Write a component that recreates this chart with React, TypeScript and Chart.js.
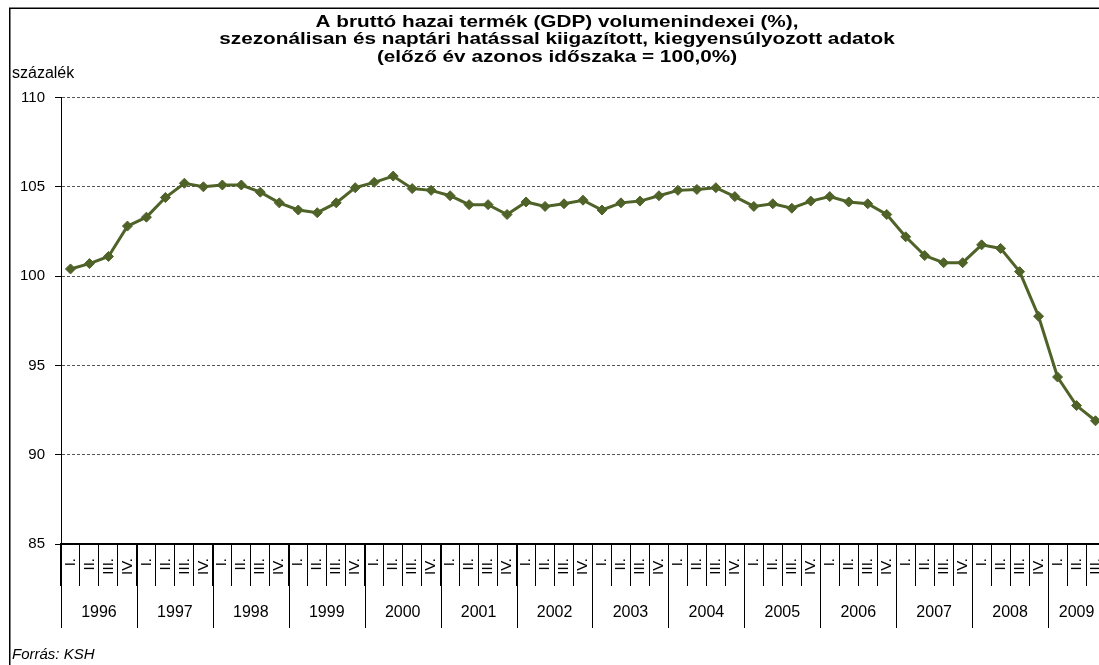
import React, { useEffect, useRef } from 'react';
import { Chart, registerables } from 'chart.js';

Chart.register(...registerables);

const FONT = "'Liberation Sans', Arial, sans-serif";

const titleLines = [
  'A bruttó hazai termék (GDP) volumenindexei (%),',
  'szezonálisan és naptári hatással kiigazított, kiegyensúlyozott adatok',
  '(előző év azonos időszaka = 100,0%)',
];
const yUnitLabel = 'százalék';
const sourceLabel = 'Forrás: KSH';

const years = ['1996', '1997', '1998', '1999', '2000', '2001', '2002', '2003', '2004', '2005', '2006', '2007', '2008', '2009'];
const quarterNames = ['I.', 'II.', 'III.', 'IV.'];

const values = [
  100.4, 100.7, 101.1, 102.8, // 1996
  103.3, 104.4, 105.2, 105.0, // 1997
  105.1, 105.1, 104.7, 104.1, // 1998
  103.7, 103.55, 104.1, 104.95, // 1999
  105.25, 105.6, 104.9, 104.8, // 2000
  104.5, 104.0, 104.0, 103.45, // 2001
  104.15, 103.9, 104.05, 104.25, // 2002
  103.7, 104.1, 104.2, 104.5, // 2003
  104.8, 104.85, 104.95, 104.45, // 2004
  103.9, 104.05, 103.8, 104.2, // 2005
  104.45, 104.15, 104.05, 103.45, // 2006
  102.2, 101.15, 100.75, 100.75, // 2007
  101.75, 101.55, 100.25, 97.75, // 2008
  94.35, 92.75, 91.9, // 2009
];

const yMin = 85;
const yMax = 110;
const yStep = 5;

const categories = values.map((_, i) => quarterNames[i % 4]);

const decorPlugin = {
  id: 'decor',
  beforeDraw(chart: any) {
    const ctx = chart.ctx;
    ctx.save();
    ctx.fillStyle = '#ffffff';
    ctx.fillRect(0, 0, chart.width, chart.height);
    ctx.restore();
  },
  afterDraw(chart: any) {
    const { ctx, chartArea } = chart;
    const xs = chart.scales.x;
    ctx.save();
    // outer frame
    ctx.strokeStyle = '#000';
    ctx.lineWidth = 1.5;
    ctx.strokeRect(9.75, 8.25, chart.width + 60, chart.height + 60);

    // title (wide bold face, as in the original)
    ctx.fillStyle = '#000';
    ctx.textAlign = 'center';
    ctx.textBaseline = 'middle';
    ctx.font = `bold 17px ${FONT}`;
    const cx = 557;
    titleLines.forEach((line, i) => {
      ctx.save();
      ctx.translate(cx, 22 + i * 17.6);
      ctx.scale(1.22, 1);
      ctx.fillText(line, 0, 0);
      ctx.restore();
    });

    // year separators and labels
    const step = xs.getPixelForValue(1) - xs.getPixelForValue(0);
    ctx.lineWidth = 1;
    ctx.strokeStyle = '#000';
    ctx.font = `16px ${FONT}`;
    years.forEach((yr, k) => {
      const first = k * 4;
      if (first >= values.length) return;
      const last = Math.min(first + 3, values.length - 1);
      const left = xs.getPixelForValue(first) - step / 2;
      const right = xs.getPixelForValue(last) + step / 2;
      const lx = Math.round(left) + 0.5;
      ctx.beginPath();
      ctx.moveTo(lx, chartArea.bottom);
      ctx.lineTo(lx, chartArea.bottom + 84);
      ctx.stroke();
      ctx.fillText(yr, (left + right) / 2, chartArea.bottom + 69);
    });

    // unit label
    ctx.textAlign = 'left';
    ctx.font = `16px ${FONT}`;
    ctx.fillText(yUnitLabel, 12, 74);
    // source
    ctx.font = `italic 15px ${FONT}`;
    ctx.fillText(sourceLabel, 12, 655);
    ctx.restore();
  },
};

export default function App() {
  const ref = useRef<HTMLCanvasElement>(null);

  useEffect(() => {
    const prev = document.body.style.overflow;
    document.body.style.overflow = 'hidden';
    const chart = new Chart(ref.current as HTMLCanvasElement, {
      type: 'line',
      data: {
        labels: categories,
        datasets: [
          {
            data: values,
            borderColor: '#4F6228',
            backgroundColor: '#4F6228',
            borderWidth: 3,
            pointStyle: 'rectRot',
            pointRadius: 5,
            pointBorderWidth: 1,
            pointBackgroundColor: '#4F6228',
            pointBorderColor: '#4F6228',
            tension: 0,
            clip: false as any,
          },
        ],
      },
      options: {
        responsive: false,
        animation: false,
        devicePixelRatio: 1,
        layout: { padding: { left: 3, right: 0, top: 97.5, bottom: 72 } },
        plugins: {
          legend: { display: false },
          tooltip: { enabled: false },
          title: { display: false },
        },
        scales: {
          x: {
            type: 'category',
            offset: true,
            grid: {
              offset: true,
              drawOnChartArea: false,
              drawTicks: true,
              tickLength: 42,
              tickColor: '#000',
              tickWidth: 1,
            },
            border: { display: true, color: '#000', width: 2 },
            ticks: {
              autoSkip: false,
              minRotation: 90,
              maxRotation: 90,
              padding: -28,
              color: '#000',
              font: { family: FONT, size: 15 },
            },
            afterFit: (scale: any) => {
              scale.height = 84;
            },
          },
          y: {
            min: yMin,
            max: yMax,
            ticks: {
              stepSize: yStep,
              padding: 10,
              color: '#000',
              font: { family: FONT, size: 15 },
            },
            grid: {
              color: '#555',
              lineWidth: 1,
              drawTicks: true,
              tickLength: 6,
              tickColor: '#000',
              tickWidth: 1,
            },
            border: { display: true, color: '#000', width: 1, dash: [3, 2] },
            afterFit: (scale: any) => {
              scale.width = 58;
            },
          },
        },
      },
      plugins: [decorPlugin],
    });
    return () => {
      chart.destroy();
      document.body.style.overflow = prev;
    };
  }, []);

  return (
    <div
      style={{
        position: 'fixed',
        left: 0,
        top: 0,
        width: 1099,
        height: 665,
        overflow: 'hidden',
        background: '#fff',
      }}
    >
      <canvas ref={ref} width={1111} height={700} style={{ display: 'block', width: 1111, height: 700 }} />
    </div>
  );
}
